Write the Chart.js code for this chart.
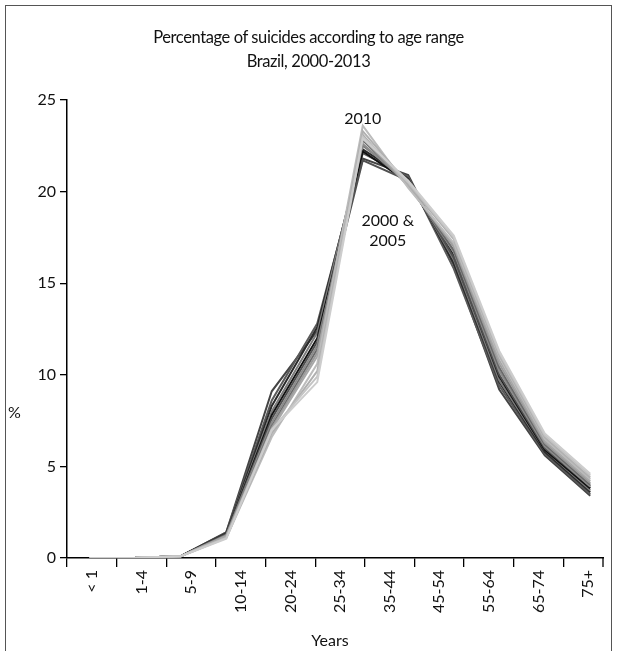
<!DOCTYPE html>
<html>
<head>
<meta charset="utf-8">
<script src="https://cdn.jsdelivr.net/npm/chart.js@4/dist/chart.umd.min.js"></script>
<style>
  body { margin: 0; background: #fff; font-family: Lato, sans-serif; color: #111; }
  #wrap { position: relative; width: 617px; height: 651px; overflow: hidden; }
  #clip { position: absolute; left: 0; top: 0; width: 604px; height: 651px; overflow: hidden; }
  #frame { position: absolute; left: 5px; top: 5px; width: 605px; height: 700px; border: 1.5px solid #555; border-bottom: none; }
  .txt { position: absolute; font-size: 16px; white-space: nowrap; }
  #title { left: 0; width: 617px; top: 25px; text-align: center; line-height: 24px; font-size: 16.5px; letter-spacing: -0.4px; }
  #ylab { left: 8px; top: 402px; }
  #xlab { left: 200px; width: 260px; top: 630px; text-align: center; }
</style>
</head>
<body>
<div id="wrap">
  <div id="clip"><canvas id="chart" width="617" height="651"></canvas></div>
  <div id="frame"></div>
  <div class="txt" id="title">Percentage of suicides according to age range<br>Brazil, 2000-2013</div>
  <div class="txt" id="ylab">%</div>
  <div class="txt" id="xlab">Years</div>
</div>
<script>
// data points (the series carry 15-19, the axis labels do not)
const ageGroups = ['<1', '1-4', '5-9', '10-14', '15-19', '20-24', '25-34', '35-44', '45-54', '55-64', '65-74', '75+']
const tickLabels = ['< 1', '1-4', '5-9', '10-14', '20-24', '25-34', '35-44', '45-54', '55-64', '65-74', '75+']
const years = [2000, 2001, 2002, 2003, 2004, 2005, 2006, 2007, 2008, 2009, 2010, 2011, 2012, 2013]

const pct2000 = [0, 0.02, 0.1, 1.4, 9.1, 12.4, 21.8, 20.9, 16.0, 9.2, 5.6, 3.4]
const pct2001 = [0, 0.02, 0.1, 1.4, 8.6, 12.8, 22.1, 20.8, 15.8, 9.4, 5.7, 3.5]
const pct2002 = [0, 0.02, 0.1, 1.35, 8.3, 12.6, 22.3, 20.7, 16.1, 9.6, 5.8, 3.6]
const pct2003 = [0, 0.02, 0.1, 1.3, 8.0, 12.3, 22.5, 20.6, 16.3, 9.7, 5.9, 3.7]
const pct2004 = [0, 0.02, 0.1, 1.3, 7.8, 12.0, 22.2, 20.5, 16.5, 9.9, 5.9, 3.8]
const pct2005 = [0, 0.02, 0.1, 1.3, 7.6, 11.8, 21.7, 20.6, 16.4, 10.0, 6.0, 3.9]
const pct2006 = [0, 0.02, 0.1, 1.25, 7.4, 11.6, 22.6, 20.4, 16.7, 10.2, 6.1, 3.9]
const pct2007 = [0, 0.02, 0.1, 1.2, 7.2, 11.4, 22.8, 20.4, 16.8, 10.4, 6.2, 4.0]
const pct2008 = [0, 0.02, 0.1, 1.2, 7.1, 11.2, 22.9, 20.3, 17.0, 10.6, 6.3, 4.1]
const pct2009 = [0, 0.02, 0.1, 1.2, 7.0, 11.0, 23.1, 20.3, 17.1, 10.8, 6.4, 4.2]
const pct2010 = [0, 0.02, 0.1, 1.1, 6.6, 10.6, 23.6, 20.2, 17.2, 11.0, 6.5, 4.3]
const pct2011 = [0, 0.02, 0.1, 1.1, 6.8, 10.2, 23.3, 20.4, 17.4, 11.1, 6.6, 4.4]
const pct2012 = [0, 0.02, 0.1, 1.1, 7.0, 9.9, 23.0, 20.5, 17.5, 11.2, 6.7, 4.5]
const pct2013 = [0, 0.02, 0.1, 1.05, 7.0, 9.6, 22.9, 20.6, 17.6, 11.3, 6.8, 4.6]

const series = [pct2000, pct2001, pct2002, pct2003, pct2004, pct2005, pct2006,
                pct2007, pct2008, pct2009, pct2010, pct2011, pct2012, pct2013]
const lineColors = ['#444', '#5a5a5a', '#2a2a2a', '#7a7a7a', '#111', '#505050', '#8c8c8c',
                    '#6a6a6a', '#9a9a9a', '#a8a8a8', '#bcbcbc', '#b0b0b0', '#c4c4c4', '#cdcdcd']

const tickFont = { family: 'Lato', size: 16 }

// year notes next to the peak
const notes = {
    id: 'notes',
    afterDatasetsDraw(chart) {
        const c = chart.ctx
        const xd = chart.scales.xd
        const y = chart.scales.y
        c.save()
        c.fillStyle = '#111'
        c.font = '16px Lato'
        c.textAlign = 'center'
        c.textBaseline = 'middle'
        c.fillText('2010', xd.getPixelForValue(6), y.getPixelForValue(pct2010[6]) - 7)
        c.fillText('2000 &', xd.getPixelForValue(6.55), y.getPixelForValue(18.4))
        c.fillText('2005', xd.getPixelForValue(6.55), y.getPixelForValue(17.3))
        // closing tick where the axis stops
        const x = chart.chartArea.right - 10
        const b = chart.chartArea.bottom
        c.strokeStyle = '#000'
        c.lineWidth = 1.3
        c.beginPath()
        c.moveTo(x, b)
        c.lineTo(x, b + 9)
        c.stroke()
        c.restore()
    }
}

new Chart(document.getElementById('chart'), {
    type: 'line',
    data: {
        labels: ageGroups,
        datasets: years.map((yr, i) => ({
            label: String(yr),
            data: series[i],
            xAxisID: 'xd',
            yAxisID: 'y',
            order: years.length - i,
            borderColor: lineColors[i],
            borderWidth: 2,
            pointRadius: 0,
            tension: 0,
            fill: false
        }))
    },
    options: {
        responsive: false,
        animation: false,
        layout: { padding: { top: 100, right: 4, left: 0, bottom: 0 } },
        plugins: {
            legend: { display: false },
            tooltip: { enabled: false },
            title: { display: false }
        },
        scales: {
            x: {
                type: 'category',
                labels: tickLabels,
                offset: true,
                position: 'bottom',
                grid: { offset: true, drawOnChartArea: false, tickLength: 9, color: '#000', lineWidth: 1.3 },
                border: { color: '#000', width: 1.5 },
                ticks: { minRotation: 90, maxRotation: 90, autoSkip: false, padding: 3, color: '#111', font: tickFont },
                afterFit: s => { s.height = 93 }
            },
            xd: {
                type: 'category',
                labels: ageGroups,
                offset: true,
                display: false
            },
            y: {
                min: 0,
                max: 25,
                ticks: { stepSize: 5, padding: 4, color: '#111', font: tickFont },
                grid: { drawOnChartArea: false, tickLength: 7, color: '#000', lineWidth: 1.3 },
                border: { color: '#000', width: 1.5 },
                afterFit: s => { s.width = 67 }
            }
        }
    },
    plugins: [notes]
})
</script>
</body>
</html>
